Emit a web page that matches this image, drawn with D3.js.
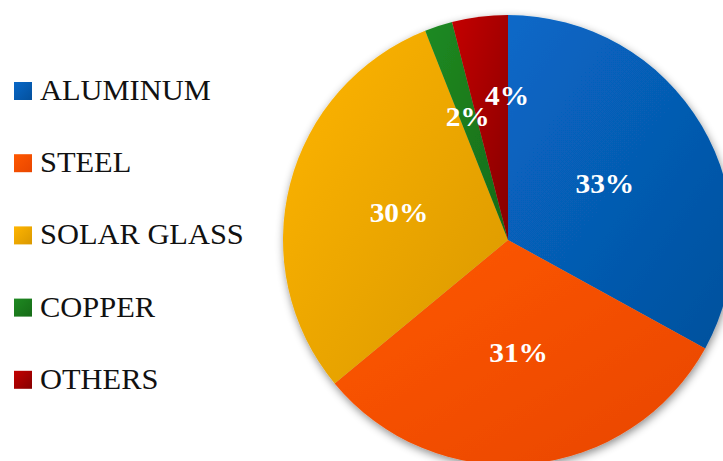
<!DOCTYPE html>
<html>
<head>
<meta charset="utf-8">
<script src="https://cdn.jsdelivr.net/npm/d3@7/dist/d3.min.js"></script>
<style>
  html, body { margin: 0; padding: 0; background: #fff; }
  svg { display: block; }
  text { font-family: "Liberation Serif", "DejaVu Serif", serif; }
</style>
</head>
<body>
<svg id="chart" width="723" height="461"></svg>
<script>
// Material shares of a PV module (percent)
const categories = ["ALUMINUM", "STEEL", "SOLAR GLASS", "COPPER", "OTHERS"];
const shares = [33, 31, 30, 2, 4];

// Slice colours: light tone -> dark tone for the shaded fill
const lightColors = ["#0868c8", "#ff5800", "#ffb500", "#1f8a22", "#c40000"];
const darkColors  = ["#04509c", "#e84600", "#d99800", "#166b17", "#860000"];

const W = 723, H = 461;
const cx = 508, cy = 240, R = 225;

const svg = d3.select("#chart");
const defs = svg.append("defs");

// soft shadow under the pie
const shadow = defs.append("filter").attr("id", "pieShadow")
  .attr("x", "-20%").attr("y", "-20%").attr("width", "140%").attr("height", "140%");
shadow.append("feDropShadow")
  .attr("dx", 1).attr("dy", 3).attr("stdDeviation", 4)
  .attr("flood-color", "#000").attr("flood-opacity", 0.45);

categories.forEach((c, i) => {
  const g = defs.append("linearGradient").attr("id", "grad" + i)
    .attr("x1", "0%").attr("y1", "0%").attr("x2", "100%").attr("y2", "100%");
  g.append("stop").attr("offset", "0%").attr("stop-color", lightColors[i]);
  g.append("stop").attr("offset", "100%").attr("stop-color", darkColors[i]);
});

const color = d3.scaleOrdinal().domain(categories).range(categories.map((c, i) => `url(#grad${i})`));

const data = categories.map((c, i) => ({ name: c, value: shares[i] }));
const pie = d3.pie().sort(null).value(d => d.value).startAngle(0).endAngle(2 * Math.PI);
const arcs = pie(data);
const arc = d3.arc().innerRadius(0).outerRadius(R);

const pieG = svg.append("g").attr("transform", `translate(${cx},${cy})`);
pieG.append("g").attr("filter", "url(#pieShadow)")
  .selectAll("path").data(arcs).join("path")
  .attr("d", arc)
  .attr("fill", d => color(d.data.name));

// label placement: radius as a fraction of R, plus an angular nudge for thin slices
const labelPlace = {
  "COPPER": { r: 0.58, da: 0 },
  "OTHERS": { r: 0.645, da: 6.8 }
};
pieG.selectAll("text.pct").data(arcs).join("text")
  .attr("class", "pct")
  .attr("transform", d => {
    const p = labelPlace[d.data.name] || { r: 0.5, da: 0 };
    const a = (d.startAngle + d.endAngle) / 2 + p.da * Math.PI / 180;
    const rr = p.r * R;
    return `translate(${rr * Math.sin(a)},${-rr * Math.cos(a)}) scale(1.05,1)`;
  })
  .attr("dy", "0.35em")
  .attr("text-anchor", "middle")
  .attr("fill", "#fff")
  .attr("font-size", 28)
  .attr("font-weight", "bold")
  .text(d => d.data.value + "%");

// legend
const legend = svg.append("g").attr("transform", "translate(14,100)");
const item = legend.selectAll("g").data(categories).join("g")
  .attr("transform", (d, i) => `translate(0,${i * 72.2})`);
item.append("rect")
  .attr("x", 0).attr("y", -18).attr("width", 18).attr("height", 18)
  .attr("fill", d => color(d));
item.append("text")
  .attr("transform", "translate(26,0) scale(1.05,1)")
  .attr("font-size", 29)
  .attr("fill", "#111")
  .text(d => d);
</script>
</body>
</html>
